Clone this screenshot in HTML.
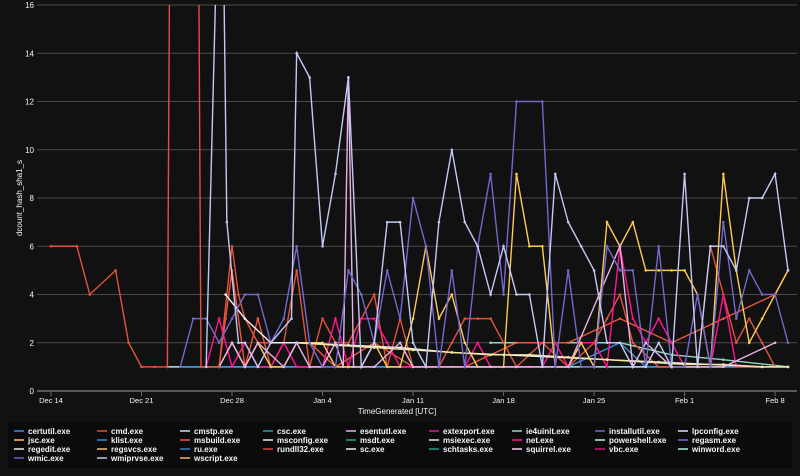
<!DOCTYPE html>
<html><head><meta charset="utf-8"><style>
html,body{margin:0;padding:0;background:#111111;}
svg text{font-family:"Liberation Sans",sans-serif;fill:#f2f5fa;}
</style></head><body>
<svg id="chart" width="800" height="471" xmlns="http://www.w3.org/2000/svg">
<rect x="0" y="0" width="800" height="471" fill="#111111"/>
<defs><clipPath id="plotclip"><rect x="37" y="5" width="760" height="388"/></clipPath></defs>
<g id="grid"></g>
<g id="series" clip-path="url(#plotclip)"></g>
<g id="xaxis"></g>
<g id="yaxis"></g>
<text x="397" y="414" font-size="8" text-anchor="middle">TimeGenerated [UTC]</text>
<text x="0" y="0" font-size="8" text-anchor="middle" transform="translate(22,198) rotate(-90)">dcount_hash_sha1_s</text>
<rect x="8" y="423" width="784" height="45" fill="#0b0b0b"/>
<g id="legend"></g>
</svg>
<script>
const xTickLabels = ["Dec 14","Dec 21","Dec 28","Jan 4","Jan 11","Jan 18","Jan 25","Feb 1","Feb 8"];
const xTickDays = [0,7,14,21,28,35,42,49,56];
const yTicks = [0,2,4,6,8,10,12,14,16];
const legendNames = ["certutil.exe","cmd.exe","cmstp.exe","csc.exe","esentutl.exe","extexport.exe","ie4uinit.exe","installutil.exe","lpconfig.exe","jsc.exe","klist.exe","msbuild.exe","msconfig.exe","msdt.exe","msiexec.exe","net.exe","powershell.exe","regasm.exe","regedit.exe","regsvcs.exe","ru.exe","rundll32.exe","sc.exe","schtasks.exe","squirrel.exe","vbc.exe","winword.exe","wmic.exe","wmiprvse.exe","wscript.exe"];
const legendColors = ["#3b8fd9","#e0533a","#c9dcf5","#2aa198","#e6b3e6","#d6218f","#8fd9c0","#7b68c8","#dde6ff","#fecb52","#2d8fe0","#ef553b","#e8f0ff","#1fa59a","#f0e0ff","#ff1493","#b8f0f0","#8a5fd6","#f0f0f0","#fbbf70","#2f7fd0","#d9472f","#e0f0ff","#199e8e","#f5d0f5","#d4147f","#b0f0d8","#6f5fc8","#c3c9f5","#f6b26b"];

// series data: days since Dec 14 and dcount values
const cmdDays = [0,2,3,5,6,7,8,9,9.3,11.3,11.6,13];
const cmdVals = [6,6,4,5,2,1,1,1,30,30,1,1];
const wmiprvseDays = [12,12.9,13.3,13.6,14.5,15,16,17,18.6,19,20,21,22,23,24,25,26,27,28,29,30,31,32,33,34,35,36,37,38,39,40,41,42,43,44,45,46,47,48,49,50,51,52,53,54,55,56,57];
const wmiprvseVals = [1,20,20,7,2,2,1,2,3,14,13,6,9,13,1,2,7,7,2,1,7,10,7,6,4,6,4,4,1,9,7,6,5,2,2,1,1,2,1,9,1,6,6,5,8,8,9,5];
const wmicDays = [10,11,12,13,14,15,16,17,18,19,20,21,22,23,24,25,26,27,28,29,30,31,32,33,34,35,36,38,39,40,41,42,43,44,45,46,47,48,49,50,51,52,53,54,55,56,57];
const wmicVals = [1,3,3,2,3,4,4,2,3,6,2,1,1,5,4,2,5,3,8,6,1,5,1,6,9,4,12,12,1,5,1,1,6,5,5,1,6,1,1,4,1,7,3,5,4,4,2];
const jscDays = [13,14,15,16,17,18,19,20,21,22,23,24,25,26,27,28,29,30,31,32,33,34,35,36,37,38,39,40,41,42,43,44,45,46,47,48,49,50,51,52,53,54,55,56,57];
const jscVals = [1,2,1,2,1,1,2,2,2,1,1,1,2,1,1,3,6,3,4,2,1,1,1,9,6,6,1,1,2,1,7,6,7,5,5,5,5,4,1,9,5,2,3,4,5];
const netDays = [12,13,14,15,16,17,18,19,20,21,22,23,24,25,26,27,28,29,30,31,32,33,34,35,36,37,38,39,40,41,42,43,44,45,46,47,48,49,50,51,52,53,54,55,56];
const netVals = [1,3,1,2,1,1,2,1,1,1,3,1,3,3,2,1,1,1,1,1,1,2,1,1,1,1,1,2,1,2,2,1,6,3,2,3,2,1,1,1,4,1,1,1,1];
const rundllDays = [13,14,14.5,15,16,18,19,20,21,22,23,24,25,26,27,28,30,31,32,33,34,35,36,38,40,42,43,44,45,47,50,51,52,53,54,55,56];
const rundllVals = [1,6,4,3,2,2,5,1,3,2,2,3,4,1,3,1,1,2,3,3,3,2,1,2,1,2,3,4,2,1,1,6,4,2,3,2,1];
const msbuildDays = [13,13.5,14,15,16,17,18,20,22,25,28,32,36,40,44,48,52,56,57];
const msbuildVals = [1,3,5,1,3,1,2,2,1,2,1,1,2,2,3,2,3,4,5];
const regeditDays = [13.5,15,17,19,23,27,31,35,39,43,47,51,55];
const regeditVals = [4,3,2,2,1.9,1.8,1.6,1.5,1.4,1.3,1.2,1.1,1];
const scDays = [19,22,25,28,31,34,37,40,43,46,49,52,55,57];
const scVals = [2,1.9,1.8,1.7,1.6,1.5,1.5,1.4,1.3,1.2,1.1,1.1,1,1];
const esentDays = [13,14,15,16,18,19,20,21,22,22.6,23,23.4,24,25,27,28,30,32,36,40,44,45,46,48,52,56];
const esentVals = [1,2,1,2,1,2,1,1,2,1,13,1,1,1,2,1,1,1,1,1,6,1,2,1,1,2];
const certutilDays = [10,20,30,40,44,46,50,57];
const certutilVals = [1,1,1,1,2,1,1,1];
const baseDays = [9,57];
const baseVals = [1,1];
const schtasksDays = [34,40,44,48,52,57];
const schtasksVals = [2,2,2,1.5,1.3,1];

const X0 = 51, PXD = 12.93, Y0 = 391, PXV = 24.125;
function xs(d){return X0 + d*PXD;}
function ys(v){return Y0 - v*PXV;}
const NS="http://www.w3.org/2000/svg";
const grid=document.getElementById('grid');
yTicks.forEach(function(t){
  const l=document.createElementNS(NS,'line');
  l.setAttribute('x1',37);l.setAttribute('x2',797);
  l.setAttribute('y1',ys(t));l.setAttribute('y2',ys(t));
  l.setAttribute('stroke',t===0?'#5a5a5a':'#4a4a4a');l.setAttribute('stroke-width',t===0?2:1);
  
  
  grid.appendChild(l);
  const tx=document.createElementNS(NS,'text');
  tx.setAttribute('x',34);tx.setAttribute('y',ys(t)+3);tx.setAttribute('font-size','8');tx.setAttribute('text-anchor','end');
  tx.textContent=t;
  
  
  document.getElementById('yaxis').appendChild(tx);
});
xTickLabels.forEach(function(lab,i){
  const x=xs(xTickDays[i]);
  const tk=document.createElementNS(NS,'line');
  tk.setAttribute('x1',x);tk.setAttribute('x2',x);tk.setAttribute('y1',392);tk.setAttribute('y2',396);tk.setAttribute('stroke','#666');
  
  
  document.getElementById('xaxis').appendChild(tk);
  const tx=document.createElementNS(NS,'text');
  tx.setAttribute('x',x);tx.setAttribute('y',403);tx.setAttribute('font-size','7.5');tx.setAttribute('text-anchor','middle');
  tx.textContent=lab;
  
  
  document.getElementById('xaxis').appendChild(tx);
});
const sg=document.getElementById('series');
function draw(name,days,vals,color){
  const g=document.createElementNS(NS,'g');
  
  
  const p=document.createElementNS(NS,'polyline');
  p.setAttribute('points',days.map(function(d,i){return xs(d)+','+ys(vals[i]);}).join(' '));
  p.setAttribute('fill','none');p.setAttribute('stroke',color);p.setAttribute('stroke-width','1.4');
  
  
  g.appendChild(p);
  days.forEach(function(d,i){
    const c=document.createElementNS(NS,'circle');
    c.setAttribute('cx',xs(d));c.setAttribute('cy',ys(vals[i]));c.setAttribute('r',1.3);c.setAttribute('fill',color);
    
    
    g.appendChild(c);
  });
  sg.appendChild(g);
}
draw('base-flat',baseDays,baseVals,'#b8e6f5');
draw('certutil',certutilDays,certutilVals,'#3b8fd9');
draw('schtasks',schtasksDays,schtasksVals,'#8fd9c0');
draw('msbuild',msbuildDays,msbuildVals,'#ef553b');
draw('rundll32',rundllDays,rundllVals,'#e0533a');
draw('net',netDays,netVals,'#ff1493');
draw('jsc',jscDays,jscVals,'#fecb52');
draw('regedit',regeditDays,regeditVals,'#f0f0f0');
draw('sc',scDays,scVals,'#f6e6a0');
draw('esentutl',esentDays,esentVals,'#e6b3e6');
draw('wmic',wmicDays,wmicVals,'#7468cc');
draw('cmd',cmdDays,cmdVals,'#e0533a');
draw('wmiprvse',wmiprvseDays,wmiprvseVals,'#c3c9f5');

const lg=document.getElementById('legend');
legendNames.forEach(function(n,i){
  const col=i%9,row=Math.floor(i/9);
  const x=14+col*83,y=431+row*9;
  const g=document.createElementNS(NS,'g');
  
  
  const l=document.createElementNS(NS,'line');
  l.setAttribute('x1',x);l.setAttribute('x2',x+10);l.setAttribute('y1',y);l.setAttribute('y2',y);
  l.setAttribute('stroke',legendColors[i]);l.setAttribute('stroke-width','1.5');
  g.appendChild(l);
  const t=document.createElementNS(NS,'text');
  t.setAttribute('x',x+14);t.setAttribute('y',y+3);t.setAttribute('font-size','8');t.setAttribute('font-weight','bold');
  t.textContent=n;
  g.appendChild(t);
  lg.appendChild(g);
});
</script>
</body></html>
